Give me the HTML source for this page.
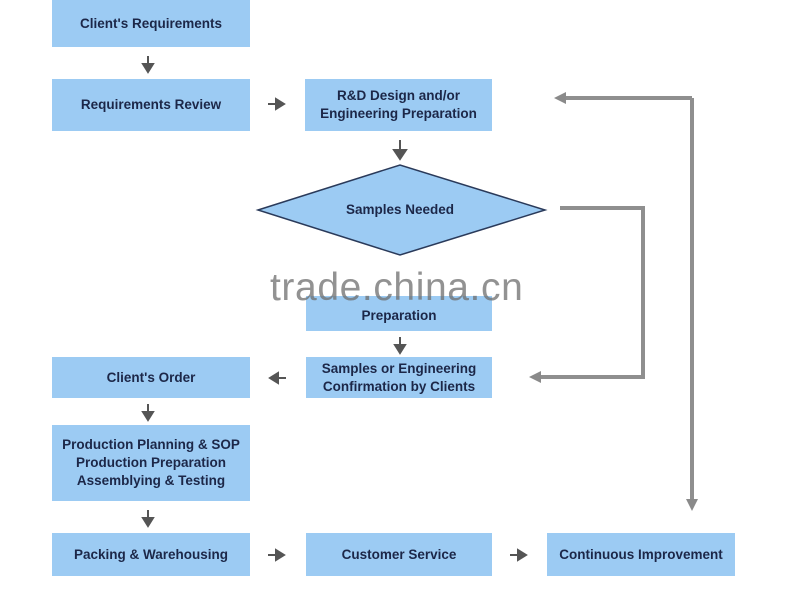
<!DOCTYPE html>
<html><head><meta charset="utf-8"><style>
body{margin:0;width:800px;height:601px;background:#fff;position:relative;overflow:hidden;font-family:"Liberation Sans",sans-serif}
.b{position:absolute;background:#9ccbf3;color:#1c2748;font-weight:bold;font-size:13.5px;display:flex;align-items:center;justify-content:center;text-align:center;line-height:18px}
svg{position:absolute;left:0;top:0}
.wm{position:absolute;left:270px;top:266px;font-size:39px;color:rgba(110,110,110,0.75);letter-spacing:0.6px}
</style></head><body>
<svg width="800" height="601">
<defs>
<marker id="g" markerWidth="12" markerHeight="12" refX="6" refY="6" orient="auto" markerUnits="userSpaceOnUse"><path d="M0,0 L12,6 L0,12 Z" fill="#8a8a8a"/></marker>
</defs>
<polygon points="258,210 400,165 545,210 400,255" fill="#9ccbf3" stroke="#2a3a5a" stroke-width="1.5"/>
<g fill="none" stroke="#8f8f8f" stroke-width="4">
<polyline points="560,208 643,208 643,377 535,377" marker-end="url(#g)"/>
<polyline points="692,98 692,505" marker-end="url(#g)"/>
<polyline points="692,98 560,98" marker-end="url(#g)"/>
</g>
<g fill="#555">
<path d="M148,56 v8 h-5 l5,8 l5,-8 h-5z" stroke="#555" stroke-width="2"/>
<path d="M148,404 v8 h-5 l5,8 l5,-8 h-5z" stroke="#555" stroke-width="2"/>
<path d="M148,510 v8 h-5 l5,8 l5,-8 h-5z" stroke="#555" stroke-width="2"/>
<path d="M400,337 v8 h-5 l5,8 l5,-8 h-5z" stroke="#555" stroke-width="2"/>
<path d="M400,140 v10 h-6 l6,9 l6,-9 h-6z" stroke="#555" stroke-width="2"/>
<path d="M268,104 h8 v-5 l8,5 l-8,5 v-5z" stroke="#555" stroke-width="2"/>
<path d="M268,555 h8 v-5 l8,5 l-8,5 v-5z" stroke="#555" stroke-width="2"/>
<path d="M510,555 h8 v-5 l8,5 l-8,5 v-5z" stroke="#555" stroke-width="2"/>
<path d="M286,378 h-8 v-5 l-8,5 l8,5 v-5z" stroke="#555" stroke-width="2"/>
</g>
</svg>
<div class="b" style="left:52px;top:0;width:198px;height:47px">Client's Requirements</div>
<div class="b" style="left:52px;top:79px;width:198px;height:52px">Requirements Review</div>
<div class="b" style="left:305px;top:79px;width:187px;height:52px">R&amp;D Design and/or<br>Engineering Preparation</div>
<div class="b" style="left:340px;top:198px;width:120px;height:24px;background:transparent">Samples Needed</div>
<div class="b" style="left:306px;top:296px;width:186px;height:35px;padding-top:5px;box-sizing:border-box">Preparation</div>
<div class="b" style="left:306px;top:357px;width:186px;height:41px">Samples or Engineering<br>Confirmation by Clients</div>
<div class="b" style="left:52px;top:357px;width:198px;height:41px">Client's Order</div>
<div class="b" style="left:52px;top:425px;width:198px;height:76px">Production Planning &amp; SOP<br>Production Preparation<br>Assemblying &amp; Testing</div>
<div class="b" style="left:52px;top:533px;width:198px;height:43px">Packing &amp; Warehousing</div>
<div class="b" style="left:306px;top:533px;width:186px;height:43px">Customer Service</div>
<div class="b" style="left:547px;top:533px;width:188px;height:43px">Continuous Improvement</div>
<div class="wm">trade.china.cn</div>
</body></html>
